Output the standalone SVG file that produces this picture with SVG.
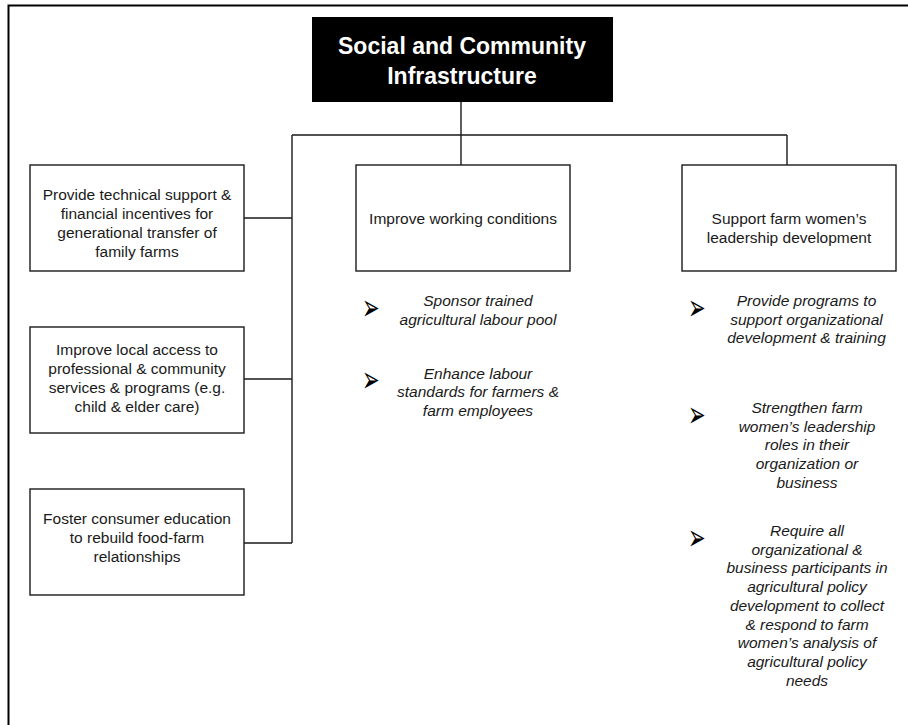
<svg xmlns="http://www.w3.org/2000/svg" width="908" height="725" viewBox="0 0 908 725">
<style>
.box{fill:#fff;stroke:#1a1a1a;stroke-width:1.4}
.t{font-family:"Liberation Sans",Arial,sans-serif;font-size:15.5px;fill:#1a1a1a;text-anchor:middle}
.i{font-style:italic}
.b{font-family:"DejaVu Sans",sans-serif;font-size:28px;fill:#000}
.title{font-family:"Liberation Sans",Arial,sans-serif;font-size:23px;font-weight:bold;fill:#fff;text-anchor:middle}
.c{fill:none;stroke:#1a1a1a;stroke-width:1.4}
</style>
<rect width="908" height="725" fill="#fff"/>
<g id="frame"><path d="M8.5,725 V5.5 H908" fill="none" stroke="#000" stroke-width="2"/></g>
<g id="connectors">
<path class="c" d="M461,102 V135 M292,135 H787 M461,135 V165 M787,135 V165 M292,135 V543 M244,218 H292 M244,379 H292 M244,543 H292"/>
</g>
<g id="title">
<rect x="312" y="17" width="301" height="85" fill="#000"/>
<text class="title" x="462" y="54">Social and Community</text>
<text class="title" x="462" y="84">Infrastructure</text>
</g>
<g id="left1">
<rect class="box" x="30" y="165" width="214" height="106"/>
<text class="t" x="137" y="200">Provide technical support &amp;</text>
<text class="t" x="137" y="219">financial incentives for</text>
<text class="t" x="137" y="238">generational transfer of</text>
<text class="t" x="137" y="256.7">family farms</text>
</g>
<g id="left2">
<rect class="box" x="30" y="327" width="214" height="106"/>
<text class="t" x="137" y="355">Improve local access to</text>
<text class="t" x="137" y="374">professional &amp; community</text>
<text class="t" x="137" y="393">services &amp; programs (e.g.</text>
<text class="t" x="137" y="411.7">child &amp; elder care)</text>
</g>
<g id="left3">
<rect class="box" x="30" y="489" width="214" height="106"/>
<text class="t" x="137" y="524">Foster consumer education</text>
<text class="t" x="137" y="543">to rebuild food-farm</text>
<text class="t" x="137" y="562">relationships</text>
</g>
<g id="middle">
<rect class="box" x="356" y="165" width="214" height="106"/>
<text class="t" x="463" y="223.5">Improve working conditions</text>
</g>
<g id="right">
<rect class="box" x="682" y="165" width="214" height="106"/>
<text class="t" x="789" y="223.5">Support farm women’s</text>
<text class="t" x="789" y="242.5">leadership development</text>
</g>
<g id="middle-bullets">
<text class="b" transform="translate(362,320) scale(0.75,1.3)">➢</text>
<text class="t i" x="478" y="306">Sponsor trained</text>
<text class="t i" x="478" y="324.5">agricultural labour pool</text>
<text class="b" transform="translate(362,392) scale(0.75,1.3)">➢</text>
<text class="t i" x="478" y="378.5">Enhance labour</text>
<text class="t i" x="478" y="397">standards for farmers &amp;</text>
<text class="t i" x="478" y="415.7">farm employees</text>
</g>
<g id="right-bullets">
<text class="b" transform="translate(688,320) scale(0.75,1.3)">➢</text>
<text class="t i" x="806.5" y="306">Provide programs to</text>
<text class="t i" x="806.5" y="324.5">support organizational</text>
<text class="t i" x="806.5" y="343">development &amp; training</text>
<text class="b" transform="translate(688,427) scale(0.75,1.3)">➢</text>
<text class="t i" x="807" y="413">Strengthen farm</text>
<text class="t i" x="807" y="431.7">women’s leadership</text>
<text class="t i" x="807" y="450.3">roles in their</text>
<text class="t i" x="807" y="469">organization or</text>
<text class="t i" x="807" y="487.5">business</text>
<text class="b" transform="translate(688,550) scale(0.75,1.3)">➢</text>
<text class="t i" x="807" y="536">Require all</text>
<text class="t i" x="807" y="554.7">organizational &amp;</text>
<text class="t i" x="807" y="573.4">business participants in</text>
<text class="t i" x="807" y="592.1">agricultural policy</text>
<text class="t i" x="807" y="610.8">development to collect</text>
<text class="t i" x="807" y="629.5">&amp; respond to farm</text>
<text class="t i" x="807" y="648.2">women’s analysis of</text>
<text class="t i" x="807" y="666.9">agricultural policy</text>
<text class="t i" x="807" y="685.6">needs</text>
</g>
</svg>
